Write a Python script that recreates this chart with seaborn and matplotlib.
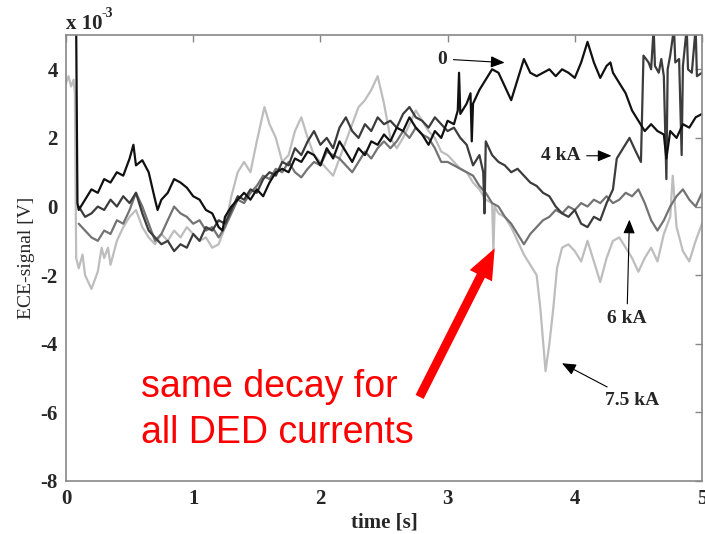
import numpy as np
import pandas as pd
import matplotlib
matplotlib.use("Agg")
import matplotlib.pyplot as plt
import seaborn as sns

# ECE signal traces (units of 1e-3 V) for different DED currents
t_0ka = [0.08, 0.09, 0.10, 0.15, 0.20, 0.25, 0.30, 0.35, 0.40, 0.45, 0.50, 0.53, 0.55, 0.60, 0.65,
         0.70, 0.72, 0.75, 0.80, 0.85, 0.90, 0.95, 1.00, 1.05, 1.10, 1.15, 1.20, 1.23, 1.25, 1.30,
         1.35, 1.40, 1.45, 1.50, 1.55, 1.60, 1.65, 1.70, 1.75, 1.80, 1.85, 1.90, 1.95, 2.00, 2.05,
         2.10, 2.15, 2.20, 2.25, 2.30, 2.35, 2.40, 2.45, 2.50, 2.55, 2.60, 2.65, 2.70, 2.75, 2.80,
         2.85, 2.90, 2.95, 3.00, 3.05, 3.08, 3.09, 3.10, 3.15, 3.18, 3.19, 3.20, 3.25, 3.30, 3.35,
         3.40, 3.45, 3.50, 3.55, 3.60, 3.65, 3.70, 3.75, 3.80, 3.85, 3.90, 3.95, 4.00, 4.05, 4.10,
         4.15, 4.20, 4.25, 4.28, 4.30, 4.35, 4.40, 4.45, 4.50, 4.55, 4.60, 4.65, 4.70, 4.72, 4.75,
         4.80, 4.85, 4.90, 4.95, 5.00]
v_0ka = [5.2, 0.1, -0.1, 0.2, 0.5, 0.4, 0.8, 0.7, 1.0, 0.9, 1.4, 1.8, 1.2, 1.35, 1.0,
         0.2, -0.1, 0.2, 0.4, 0.8, 0.7, 0.55, 0.3, 0.2, -0.1, -0.2, -0.6, -0.7, -0.3, 0.0,
         0.2, 0.4, 0.2, 0.5, 0.3, 0.7, 1.0, 1.1, 1.0, 1.4, 1.3, 1.6, 1.5, 1.2, 1.7,
         1.4, 1.9, 1.6, 1.3, 1.7, 1.5, 1.9, 1.8, 2.1, 1.9, 2.3, 2.2, 2.6, 2.3, 2.1,
         1.8, 2.2, 2.0, 2.5, 2.4, 2.8, 3.9, 2.7, 3.0, 3.3, 1.9, 3.0, 3.4, 3.7, 4.0,
         3.9, 3.5, 3.1, 3.7, 4.3, 3.9, 3.8, 3.9, 4.0, 3.8, 4.0, 3.9, 3.75, 4.2, 4.8,
         4.2, 3.75, 4.1, 4.2, 3.9, 3.6, 3.3, 2.8, 2.5, 2.2, 2.4, 2.2, 2.1, 1.4, 2.2,
         2.0, 2.4, 2.3, 2.6, 2.7]

t_4ka = [0.10, 0.15, 0.20, 0.25, 0.30, 0.35, 0.40, 0.45, 0.50, 0.55, 0.60, 0.65, 0.70, 0.75, 0.80,
         0.85, 0.90, 0.95, 1.00, 1.05, 1.10, 1.15, 1.20, 1.25, 1.30, 1.35, 1.40, 1.45, 1.50, 1.55,
         1.60, 1.65, 1.70, 1.75, 1.80, 1.85, 1.90, 1.95, 2.00, 2.05, 2.10, 2.15, 2.20, 2.25, 2.30,
         2.35, 2.40, 2.45, 2.50, 2.55, 2.60, 2.65, 2.70, 2.75, 2.80, 2.85, 2.90, 2.95, 3.00, 3.05,
         3.10, 3.15, 3.20, 3.25, 3.28, 3.29, 3.30, 3.35, 3.40, 3.45, 3.50, 3.55, 3.60, 3.65, 3.70,
         3.75, 3.80, 3.85, 3.90, 3.95, 4.00, 4.05, 4.10, 4.15, 4.20, 4.25, 4.30, 4.33, 4.38, 4.43,
         4.48, 4.52, 4.54, 4.58, 4.60, 4.62, 4.63, 4.66, 4.68, 4.70, 4.72, 4.73, 4.75, 4.78, 4.79,
         4.82, 4.84, 4.85, 4.88, 4.89, 4.92, 4.95, 4.96, 5.00]
v_4ka = [0.0, -0.3, -0.2, 0.0, -0.1, 0.2, 0.0, 0.3, 0.1, 0.4, -0.2, -0.7, -0.9, -1.1, -1.0,
         -1.3, -1.1, -1.2, -0.8, -1.0, -0.6, -0.7, -0.4, -0.5, -0.1, 0.3, 0.2, 0.5, 0.4, 0.8,
         1.0, 0.9, 1.3, 1.2, 1.7, 1.5, 1.9, 2.2, 1.8, 2.0, 1.7, 2.3, 2.6, 2.2, 2.0,
         2.4, 2.2, 2.6, 2.4, 2.5, 2.3, 2.7, 2.9, 2.6, 2.5, 2.3, 2.6, 2.4, 2.2, 2.3,
         2.0, 1.8, 1.2, 1.5, 1.0, -0.2, 1.9, 1.5, 1.3, 1.2, 1.0, 1.1, 0.9, 0.7, 0.6,
         0.4, 0.3, 0.0, -0.2, -0.3, -0.1, -0.5, -0.6, -0.3, -0.4, 0.1, 0.5, 1.4, 1.7, 2.0,
         1.6, 1.3, 4.4, 4.2, 4.0, 5.2, 4.1, 3.9, 4.3, 3.8, 0.8, 4.0, 4.4, 5.2, 4.2,
         4.3, 1.5, 4.1, 5.2, 4.0, 3.9, 5.2, 3.8, 3.9]

t_6ka = [0.10, 0.15, 0.20, 0.25, 0.30, 0.35, 0.40, 0.45, 0.50, 0.55, 0.60, 0.65, 0.70, 0.75, 0.80,
         0.85, 0.90, 0.95, 1.00, 1.05, 1.10, 1.15, 1.20, 1.25, 1.30, 1.35, 1.40, 1.45, 1.50, 1.55,
         1.60, 1.65, 1.70, 1.75, 1.80, 1.85, 1.90, 1.95, 2.00, 2.05, 2.10, 2.15, 2.20, 2.25, 2.30,
         2.35, 2.40, 2.45, 2.50, 2.55, 2.60, 2.65, 2.70, 2.75, 2.80, 2.85, 2.90, 2.95, 3.00, 3.05,
         3.10, 3.15, 3.20, 3.25, 3.30, 3.35, 3.40, 3.45, 3.50, 3.55, 3.60, 3.65, 3.70, 3.75, 3.80,
         3.85, 3.90, 3.95, 4.00, 4.05, 4.10, 4.15, 4.20, 4.25, 4.30, 4.35, 4.40, 4.45, 4.50, 4.55,
         4.60, 4.65, 4.70, 4.75, 4.80, 4.85, 4.90, 4.95, 5.00]
v_6ka = [-0.5, -0.7, -0.9, -1.0, -0.7, -0.8, -0.4, -0.5, -0.1, 0.4, 0.0, -0.5, -1.0, -0.8, -0.4,
         0.0, -0.2, -0.3, -0.5, -0.4, -0.7, -0.6, -0.9, -0.6, -0.2, 0.2, 0.1, 0.4, 0.6, 0.9,
         0.8, 1.1, 1.0, 1.3, 1.0, 0.85, 1.1, 1.3, 1.2, 1.6, 1.5, 1.4, 1.2, 1.0, 1.3,
         1.6, 1.4, 1.7, 1.9, 1.7, 1.9, 2.2, 2.0, 2.3, 2.1, 2.0, 1.7, 1.3, 1.3, 1.2,
         1.1, 1.0, 0.9, 0.6, 0.4, 0.1, 0.0, -0.3, -0.5, -0.8, -1.1, -0.8, -0.6, -0.4, -0.3,
         -0.1, -0.2, 0.0, -0.1, 0.1, 0.0, 0.2, 0.1, 0.3, 0.1, 0.2, 0.4, 0.3, 0.5, 0.1,
         -0.4, -0.7, -0.4, 0.0, 0.3, 0.5, 0.2, 0.0, 0.4]

t_75ka = [0.00, 0.02, 0.04, 0.06, 0.07, 0.08, 0.10, 0.13, 0.15, 0.20, 0.25, 0.28, 0.30, 0.33, 0.35,
          0.40, 0.45, 0.50, 0.55, 0.60, 0.65, 0.70, 0.75, 0.80, 0.85, 0.90, 0.95, 1.00, 1.05, 1.10,
          1.15, 1.20, 1.25, 1.30, 1.35, 1.40, 1.45, 1.50, 1.56, 1.60, 1.65, 1.70, 1.75, 1.80, 1.85,
          1.90, 1.95, 2.00, 2.05, 2.10, 2.15, 2.20, 2.25, 2.30, 2.35, 2.40, 2.45, 2.50, 2.55, 2.60,
          2.65, 2.70, 2.75, 2.80, 2.85, 2.90, 2.95, 3.00, 3.05, 3.10, 3.15, 3.20, 3.25, 3.30, 3.35,
          3.36, 3.37, 3.40, 3.45, 3.50, 3.55, 3.60, 3.65, 3.70, 3.73, 3.77, 3.80, 3.83, 3.86, 3.90,
          3.95, 4.00, 4.05, 4.10, 4.15, 4.20, 4.25, 4.30, 4.35, 4.40, 4.45, 4.50, 4.55, 4.60, 4.65,
          4.70, 4.75, 4.77, 4.80, 4.85, 4.90, 4.95, 5.00]
v_75ka = [3.6, 3.8, 3.5, 3.7, 3.3, -1.5, -1.8, -1.4, -2.0, -2.4, -1.9, -1.2, -1.5, -1.2, -1.7,
          -1.0, -0.6, -0.3, -0.1, -0.6, -0.9, -1.1, -0.8, -1.0, -0.7, -0.9, -0.6, -0.8, -1.0, -0.9,
          -1.2, -1.1, -0.6, 0.3, 1.0, 1.3, 1.0, 1.9, 2.9, 2.4, 2.0, 1.3, 1.5, 2.2, 2.6,
          2.0, 1.5, 1.3, 1.1, 0.9, 1.4, 1.9, 2.4, 2.9, 3.1, 3.4, 3.8, 3.0, 2.0, 1.7,
          2.0, 2.4, 2.8, 2.5, 2.2, 2.0, 1.6, 1.5, 1.3, 1.1, 1.0, 0.7, 0.5, 0.2, 0.1,
          -1.3, 0.0, -0.2, -0.3, -0.6, -1.0, -1.4, -1.7, -2.0, -3.0, -4.8, -4.0, -3.0, -1.8, -1.2,
          -1.1, -1.3, -1.6, -1.0, -1.6, -2.2, -1.5, -1.0, -0.9, -1.2, -1.5, -1.9, -1.5, -1.2, -1.6,
          -0.8, -0.3, 0.9, -0.6, -1.3, -1.6, -1.0, -0.5]

currents = ["7.5 kA", "6 kA", "4 kA", "0"]
series_t = [t_75ka, t_6ka, t_4ka, t_0ka]
series_v = [v_75ka, v_6ka, v_4ka, v_0ka]
palette = {"7.5 kA": "#bdbdbd", "6 kA": "#737373", "4 kA": "#3c3c3c", "0": "#111111"}

frames = [pd.DataFrame({"time": t, "signal": v, "current": c})
          for c, t, v in zip(currents, series_t, series_v)]
df = pd.concat(frames, ignore_index=True)

sns.set_theme(style="white")
plt.rcParams["font.family"] = ["Liberation Serif", "DejaVu Serif"]
plt.rcParams["axes.unicode_minus"] = False

fig = plt.figure(figsize=(7.05, 5.34), dpi=100)
ax = fig.add_axes([66 / 705, 1 - 481 / 534, 636 / 705, 446 / 534])

sns.lineplot(data=df, x="time", y="signal", hue="current", hue_order=currents,
             palette=palette, estimator=None, sort=False, legend=False,
             linewidth=1.6, ax=ax)

ax.set_xlim(0, 5)
ax.set_ylim(-8, 5)
ax.set_xticks([0, 1, 2, 3, 4, 5])
ax.set_yticks([-8, -6, -4, -2, 0, 2, 4])
ax.tick_params(direction="in", length=5, width=1, color="#888888",
               top=True, right=True, labelsize=15, pad=6)
for lab in ax.get_xticklabels() + ax.get_yticklabels():
    lab.set_fontweight("bold")
for sp in ax.spines.values():
    sp.set_color("#888888")
    sp.set_linewidth(1.2)

ax.set_xlabel("time [s]", fontsize=15, fontweight="bold", labelpad=2)
ax.set_ylabel("ECE-signal [V]", fontsize=14, labelpad=4)

# Axis multiplier drawn as plain text with a raised exponent
fig.text(66 / 705, 1 - 29 / 534, "x 10", fontsize=15, fontweight="bold",
         ha="left", va="baseline")
fig.text(101 / 705, 1 - 17 / 534, "-3", fontsize=10, fontweight="bold",
         ha="left", va="baseline")

# Labels for each DED current
arrow_k = dict(arrowstyle="-|>,head_length=0.6,head_width=0.25", color="black", lw=0.8)
ax.annotate("0", xy=(3.47, 4.19), xytext=(2.96, 4.3), fontsize=14, fontweight="bold",
            ha="center", va="center", arrowprops=arrow_k)
ax.annotate("4 kA", xy=(4.31, 1.48), xytext=(3.89, 1.48), fontsize=14, fontweight="bold",
            ha="center", va="center", arrowprops=arrow_k)
ax.annotate("6 kA", xy=(4.43, -0.3), xytext=(4.41, -3.26), fontsize=14, fontweight="bold",
            ha="center", va="center", arrowprops=arrow_k)
ax.annotate("7.5 kA", xy=(3.88, -4.53), xytext=(4.45, -5.64), fontsize=14, fontweight="bold",
            ha="center", va="center", arrowprops=arrow_k)

# Red callout
ax.annotate("", xy=(3.37, -1.22), xytext=(2.78, -5.55),
            arrowprops=dict(facecolor="red", edgecolor="none", width=6.5,
                            headwidth=18, headlength=22, shrink=0))
red_font = ["Liberation Sans", "DejaVu Sans"]
ax.text(0.59, -5.55, "same decay for", color="red", fontsize=27,
        family=red_font, ha="left", va="baseline")
ax.text(0.59, -6.89, "all DED currents", color="red", fontsize=27,
        family=red_font, ha="left", va="baseline")

fig.savefig("out.png", dpi=100)
